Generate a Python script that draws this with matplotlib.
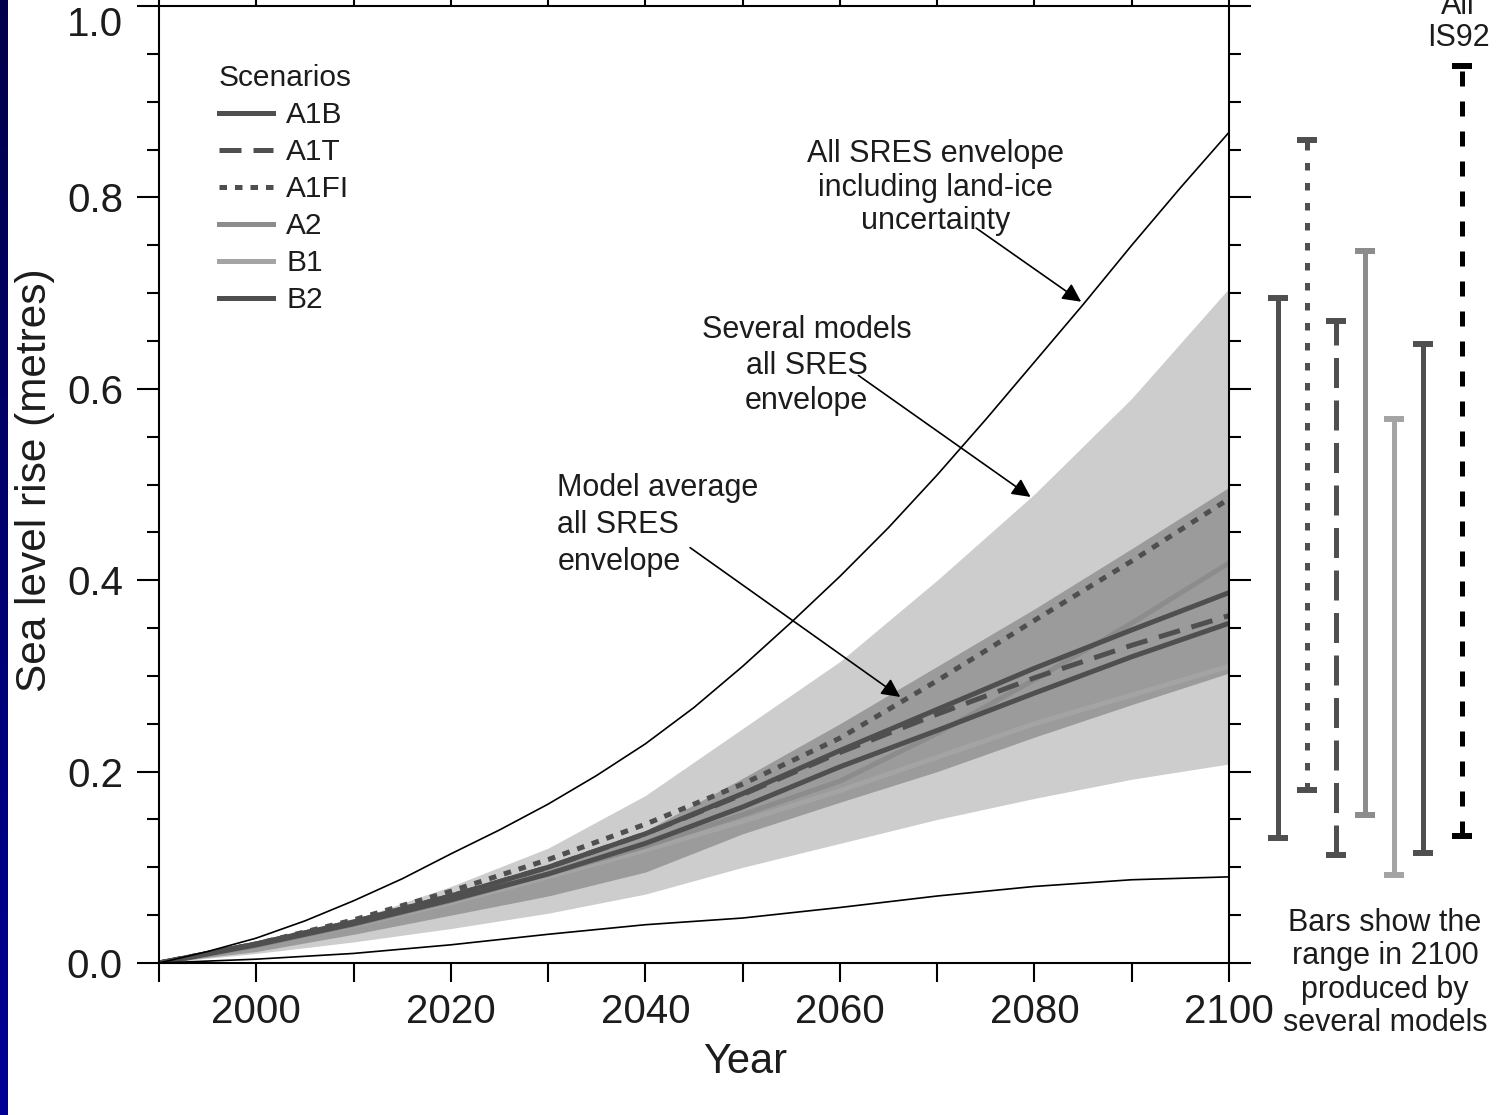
import numpy as np
import matplotlib
matplotlib.use("Agg")
import matplotlib.pyplot as plt
from matplotlib.ticker import MultipleLocator
from matplotlib.colors import LinearSegmentedColormap

plt.rcParams['font.family'] = ['Liberation Sans', 'DejaVu Sans']

# data
years = [1990, 2000, 2010, 2020, 2030, 2040, 2050, 2060, 2070, 2080, 2090, 2100]
years5 = [1990, 1995, 2000, 2005, 2010, 2015, 2020, 2025, 2030, 2035, 2040, 2045,
          2050, 2055, 2060, 2065, 2070, 2075, 2080, 2085, 2090, 2095, 2100]

# all SRES envelope incl. land-ice uncertainty (thin black curves)
landice_hi = [0, 0.012, 0.026, 0.044, 0.065, 0.088, 0.114, 0.139, 0.166, 0.196, 0.229, 0.267,
              0.31, 0.356, 0.404, 0.455, 0.51, 0.568, 0.628, 0.688, 0.75, 0.81, 0.868]
landice_lo = [0, 0.004, 0.010, 0.019, 0.030, 0.040, 0.047, 0.058, 0.070, 0.080, 0.087, 0.090]

# several models, all SRES envelope (light band)
models_hi = [0, 0.021, 0.045, 0.08, 0.12, 0.175, 0.245, 0.315, 0.40, 0.49, 0.59, 0.705]
models_lo = [0, 0.010, 0.022, 0.036, 0.052, 0.072, 0.10, 0.125, 0.15, 0.172, 0.192, 0.208]

# model average, all SRES envelope (dark band)
avg_hi = [0, 0.018, 0.042, 0.07, 0.098, 0.138, 0.193, 0.25, 0.31, 0.37, 0.433, 0.497]
avg_lo = [0, 0.012, 0.030, 0.05, 0.070, 0.095, 0.135, 0.168, 0.20, 0.236, 0.27, 0.303]

# scenarios (model average)
a1b = [0, 0.02, 0.043, 0.07, 0.10, 0.135, 0.177, 0.222, 0.265, 0.308, 0.348, 0.387]
a1t = [0, 0.02, 0.043, 0.07, 0.10, 0.135, 0.176, 0.22, 0.26, 0.298, 0.332, 0.363]
a1fi = [0, 0.02, 0.045, 0.075, 0.108, 0.145, 0.187, 0.235, 0.295, 0.358, 0.42, 0.485]
a2 = [0, 0.018, 0.04, 0.065, 0.093, 0.122, 0.155, 0.19, 0.24, 0.296, 0.355, 0.418]
b1 = [0, 0.018, 0.039, 0.063, 0.09, 0.118, 0.148, 0.18, 0.215, 0.25, 0.28, 0.31]
b2 = [0, 0.019, 0.041, 0.066, 0.093, 0.125, 0.163, 0.205, 0.243, 0.282, 0.32, 0.355]

# range in 2100 from several models
bar_names = ['A1B', 'A1FI', 'A1T', 'A2', 'B1', 'B2', 'IS92']
bar_lo = [0.131, 0.181, 0.113, 0.155, 0.092, 0.115, 0.133]
bar_hi = [0.695, 0.860, 0.671, 0.744, 0.568, 0.647, 0.937]

dark = '#4f4f4f'
mid = '#8c8c8c'
light = '#a4a4a4'
tcol = '#1c1c1c'

fig = plt.figure(figsize=(15, 11.15), dpi=100)
fig.patch.set_facecolor('white')

# blue strip on the left
strip = fig.add_axes([0, 0, 7/1500, 1])
grad = np.linspace(0, 1, 256).reshape(-1, 1)
strip.imshow(grad, aspect='auto',
             cmap=LinearSegmentedColormap.from_list('navy', ['#00004a', '#000096']))
strip.set_axis_off()

ax = fig.add_axes([159/1500, 1 - 963/1115, 1070/1500, 957/1115])

ax.fill_between(years, models_lo, models_hi, color='#cdcdcd', lw=0)
ax.fill_between(years, avg_lo, avg_hi, color='#9b9b9b', lw=0)

lw = 3.6
h_b1, = ax.plot(years, b1, color=light, lw=lw, label='B1')
h_a2, = ax.plot(years, a2, color=mid, lw=lw, label='A2')
h_b2, = ax.plot(years, b2, color=dark, lw=lw, label='B2')
h_a1t, = ax.plot(years, a1t, color=dark, lw=lw, ls=(0, (4.4, 2.4)), label='A1T')
h_a1b, = ax.plot(years, a1b, color=dark, lw=lw, label='A1B')
h_a1fi, = ax.plot(years, a1fi, color=dark, lw=lw, ls=(0, (1.5, 1.6)), label='A1FI')

ax.plot(years5, landice_hi, color='black', lw=1.2)
ax.plot(years, landice_lo, color='black', lw=1.2)

ax.set_xlim(1990, 2100)
ax.set_ylim(0, 1.0)

for s in ax.spines.values():
    s.set_linewidth(1.5)

ax.set_xticks([2000, 2020, 2040, 2060, 2080, 2100],
              labels=['2000', '2020', '2040', '2060', '2080', '2100'],
              fontsize=29, color=tcol)
ax.xaxis.set_minor_locator(MultipleLocator(10))
ax.set_yticks([0, 0.2, 0.4, 0.6, 0.8, 1.0],
              labels=['0.0', '0.2', '0.4', '0.6', '0.8', '1.0'],
              fontsize=29, color=tcol)
ax.yaxis.set_minor_locator(MultipleLocator(0.05))
# the top label sits just below its tick, as in the original
ax.get_yticklabels()[-1].set_va('top')

ax.tick_params(axis='x', which='both', direction='out', top=True, bottom=True,
               length=13.7, width=1.5, pad=8)
ax.tick_params(axis='y', which='major', direction='out', left=True, right=True,
               length=16, width=1.5, pad=10)
ax.tick_params(axis='y', which='minor', direction='out', left=True, right=True,
               length=8.3, width=1.5)

ax.set_xlabel('Year', fontsize=30, color=tcol)
ax.xaxis.set_label_coords(0.548, -0.083)
ax.set_ylabel('Sea level rise (metres)', fontsize=30.5, color=tcol)
ax.yaxis.set_label_coords(-0.097, 0.505)

leg = ax.legend(handles=[h_a1b, h_a1t, h_a1fi, h_a2, h_b1, h_b2],
                title='Scenarios', loc='upper left', bbox_to_anchor=(0.056, 0.939),
                frameon=False, fontsize=21.5, title_fontsize=21.5, handlelength=1.81,
                handletextpad=0.44, labelspacing=0.3, borderpad=0, borderaxespad=0,
                alignment='left')
for t in leg.get_texts():
    t.set_color(tcol)
leg.get_title().set_color(tcol)

txt = dict(fontsize=22, color=tcol)
ax.text(2069.85, 0.81, 'All SRES envelope\nincluding land-ice\nuncertainty',
        ha='center', va='center', linespacing=1.15, **txt)
ax.text(2056.6, 0.624, 'Several models\nall SRES\nenvelope',
        ha='center', va='center', linespacing=1.24, **txt)
ax.text(2030.96, 0.458, 'Model average\nall SRES\nenvelope',
        ha='left', va='center', multialignment='left', linespacing=1.31, **txt)

arrow = dict(arrowstyle='-|>', color='black', lw=1.2, mutation_scale=28,
             shrinkA=0, shrinkB=0)
ax.annotate('', xy=(2084.8, 0.691), xytext=(2074.0, 0.768), arrowprops=arrow)
ax.annotate('', xy=(2079.6, 0.487), xytext=(2061.9, 0.614), arrowprops=arrow)
ax.annotate('', xy=(2066.2, 0.278), xytext=(2044.6, 0.434), arrowprops=arrow)

# range bars to the right of the main panel
ax2 = fig.add_axes([1240/1500, 1 - 963/1115, 260/1500, 957/1115])
ax2.set_xlim(-1.3, 7.63)
ax2.set_ylim(0, 1.0)
ax2.set_axis_off()

bar_pos = [0, 1, 2, 3, 4, 5, 6.32]
bar_col = [dark, dark, dark, mid, light, dark, 'black']
bar_ls = ['-', (0, (1.5, 2.5)), (0, (6, 2.5)), '-', '-', '-', (0, (3, 3))]
for x, lo, hi, c, ls in zip(bar_pos, bar_lo, bar_hi, bar_col, bar_ls):
    ax2.plot([x, x], [lo, hi], color=c, lw=3.6, ls=ls, solid_capstyle='butt')
    ax2.plot([x, x], [lo, hi], ls='none', marker='_', ms=15, mew=4.3, color=c)

fig.text(1458/1500, 1 - 22/1115, 'All\nIS92', ha='center', va='center',
         fontsize=22, color=tcol, linespacing=1.12)
fig.text(1385/1500, 1 - 973/1115, 'Bars show the\nrange in 2100\nproduced by\nseveral models',
         ha='center', va='center', fontsize=22, color=tcol, linespacing=1.14)

fig.savefig('out.png', dpi=100)
